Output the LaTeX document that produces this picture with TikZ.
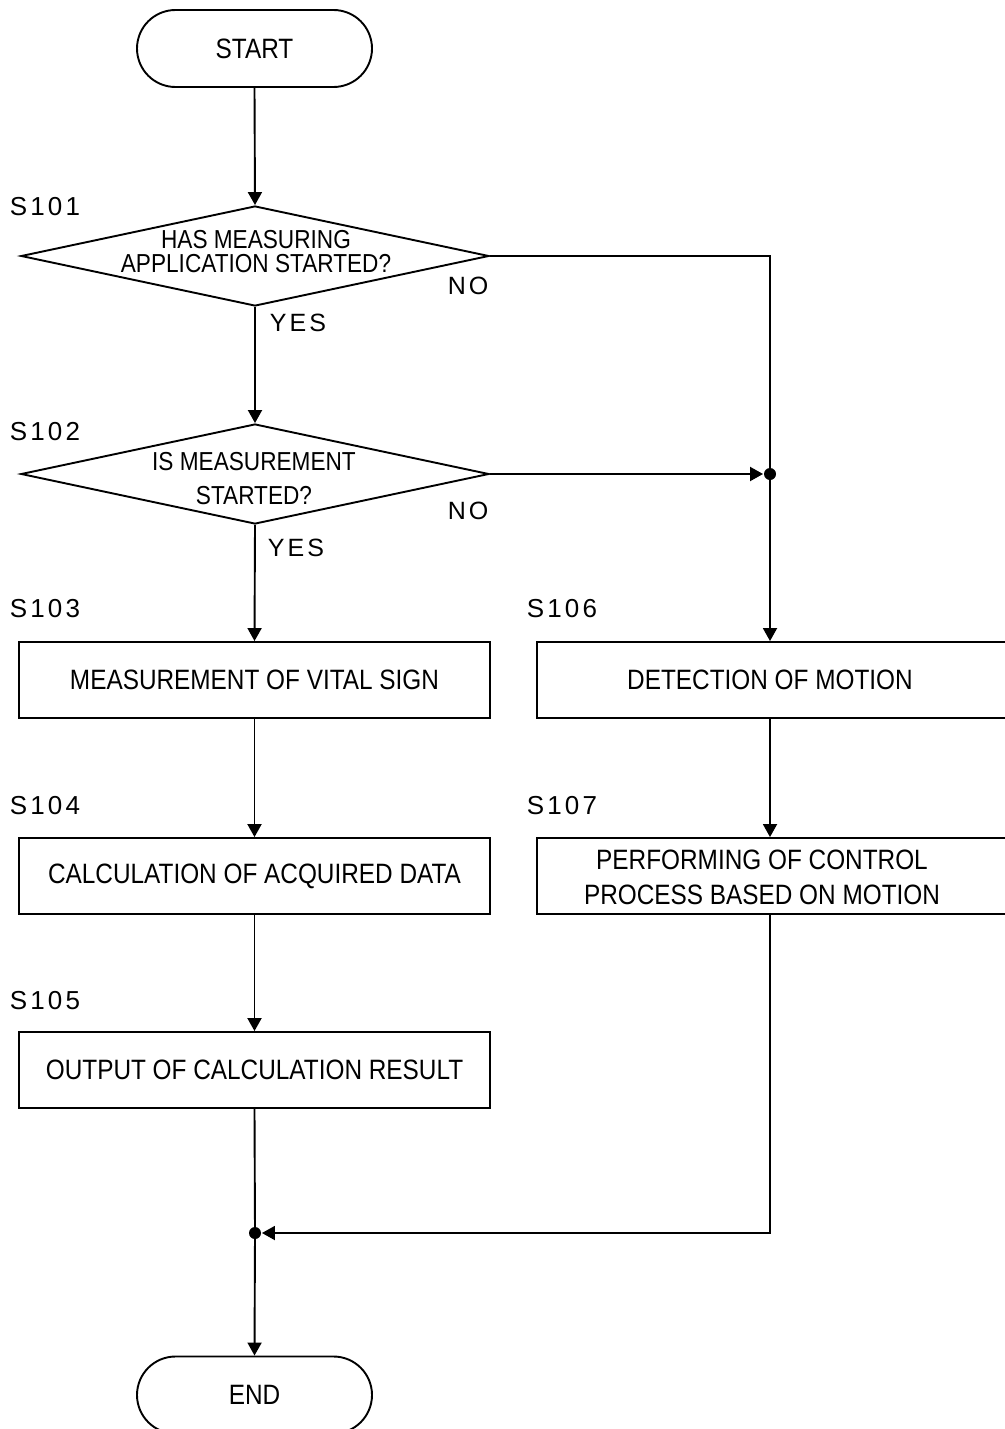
\documentclass[tikz,border=0pt]{standalone}
\usepackage{fontspec}
\setmainfont{Liberation Sans}[FakeStretch=0.87]
\newfontfamily\lblfont{Liberation Sans}[LetterSpace=12]
\usetikzlibrary{shapes.geometric,shapes.misc,arrows.meta}
\begin{document}
\begin{tikzpicture}[x=1pt,y=-1pt, line width=1.9pt,
 term/.style={draw, rounded rectangle, minimum width=235pt, minimum height=77pt, inner sep=0pt, font=\fontsize{28}{30}\selectfont},
 proc/.style={draw, rectangle, minimum width=471pt, minimum height=76pt, inner sep=0pt, font=\fontsize{28}{35}\selectfont, align=center},
 dia/.style={draw, diamond, minimum width=468pt, minimum height=100pt, inner sep=0pt},
 dtext/.style={align=center, inner sep=0pt},
 steplbl/.style={font=\lblfont\fontsize{26}{26}\selectfont, anchor=west, inner sep=0pt},
 ans/.style={font=\lblfont\fontsize{25}{25}\selectfont, inner sep=0pt},
 arr/.style={-{Triangle[length=13pt,width=14pt]}},
 jdot/.style={circle, fill, inner sep=0pt, minimum size=12pt}
]
\useasboundingbox (0,0) rectangle (1004,1429);

% terminals
\node[term] (start) at (254.5,48.5) {START};
\node[term] (end) at (254.5,1395) {END};

% decisions
\node[dia] (d1) at (255,256) {};
\node[dtext, font=\fontsize{26}{24}\selectfont] (t1) at (256,252) {HAS MEASURING\\APPLICATION STARTED?};
\node[dia] (d2) at (255,474) {};
\node[dtext, font=\fontsize{26}{34}\selectfont] (t2) at (254,479) {IS MEASUREMENT\\STARTED?};

% process boxes
\node[proc] (b3) at (254.5,680) {MEASUREMENT OF VITAL SIGN};
\node[proc] (b4) at (254.5,876) {CALCULATION OF ACQUIRED DATA};
\node[proc] (b5) at (254.5,1070) {OUTPUT OF CALCULATION RESULT};
\node[proc, minimum width=480pt] (b6) at (777,680) {};
\node[dtext, font=\fontsize{28}{35}\selectfont] (t6) at (770,680) {DETECTION OF MOTION};
\node[proc, minimum width=480pt] (b7) at (777,876) {};
\node[dtext, font=\fontsize{28}{35}\selectfont] (t7) at (762,877) {PERFORMING OF CONTROL\\PROCESS BASED ON MOTION};

% junctions
\node[jdot] (j1) at (770,474) {};
\node[jdot] (j2) at (255,1233) {};

% step labels
\node[steplbl] (s101) at (9,207) {S101};
\node[steplbl] (s102) at (9,432) {S102};
\node[steplbl] (s103) at (9,609) {S103};
\node[steplbl] (s104) at (9,806) {S104};
\node[steplbl] (s105) at (9,1001) {S105};
\node[steplbl] (s106) at (526,609) {S106};
\node[steplbl] (s107) at (526,806) {S107};

% answers
\node[ans] (no1) at (468,286) {NO};
\node[ans] (yes1) at (298,323) {YES};
\node[ans] (no2) at (468,511) {NO};
\node[ans] (yes2) at (296,548) {YES};

% connectors
\draw[arr] (start.south) -- (d1.north);
\draw[arr] (d1.south) -- (d2.north);
\draw[arr] (d2.south) -- (b3.north);
\draw[arr] (b3.south) -- (b4.north);
\draw[arr] (b4.south) -- (b5.north);
\draw (d1.east) -| (j1.center);
\draw[arr] (d2.east) -- (j1.west);
\draw[arr] (j1.center) -- (b6.north -| j1);
\draw[arr] (b6.south -| j1) -- (b7.north -| j1);
\draw[arr] (b7.south -| j1) |- (j2.east);
\draw (b5.south) -- (j2.center);
\draw[arr] (j2.center) -- (end.north);
\end{tikzpicture}
\end{document}
